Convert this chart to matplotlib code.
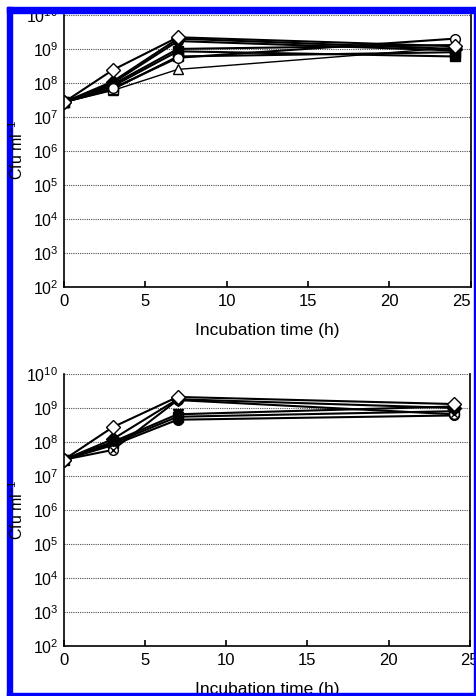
import matplotlib
matplotlib.use("Agg")
import matplotlib.pyplot as plt
from matplotlib.patches import Rectangle

plt.rcParams['font.family'] = ['Liberation Sans', 'DejaVu Sans']
plt.rcParams['mathtext.fontset'] = 'custom'
plt.rcParams['mathtext.rm'] = 'Liberation Sans'
plt.rcParams['mathtext.it'] = 'Liberation Sans'

# incubation times (h)
time = [0, 3, 7, 24]

# top panel series (cfu/ml)
top_open_diamond = [2.7e7, 2.4e8, 2.2e9, 1.2e9]
top_fill_diamond = [2.7e7, 1.1e8, 2.0e9, 1.0e9]
top_open_square = [2.7e7, 6.5e7, 6.0e8, 8.0e8]
top_fill_square = [2.7e7, 8.0e7, 8.5e8, 6.0e8]
top_open_triangle = [2.7e7, 6.0e7, 2.5e8, 1.1e9]
top_fill_triangle = [2.7e7, 9.0e7, 1.0e9, 1.3e9]
top_open_circle = [2.7e7, 7.0e7, 5.5e8, 2.0e9]
top_fill_circle = [2.7e7, 1.0e8, 1.7e9, 9.0e8]

# bottom panel series (cfu/ml)
bot_open_diamond = [3.0e7, 2.7e8, 2.1e9, 1.3e9]
bot_fill_diamond = [3.0e7, 1.2e8, 1.8e9, 1.0e9]
bot_cross_circle = [3.0e7, 5.8e7, 1.7e9, 6.5e8]
bot_fill_tri_down = [3.0e7, 1.0e8, 6.5e8, 1.1e9]
bot_fill_square = [3.0e7, 9.0e7, 5.5e8, 8.0e8]
bot_fill_circle = [3.0e7, 8.0e7, 4.5e8, 6.0e8]

yticks = [1e2, 1e3, 1e4, 1e5, 1e6, 1e7, 1e8, 1e9, 1e10]
ytick_labels = ['$10^{%d}$' % i for i in range(2, 11)]
xticks = [0, 5, 10, 15, 20, 25]

W, H = 477.0, 696.0
fig = plt.figure(figsize=(4.77, 6.96), dpi=100)
ax1 = fig.add_axes([0.134, 0.5876, 0.853, 0.391])
ax2 = fig.add_axes([0.134, 0.0718, 0.851, 0.391])


def style(ax):
    ax.set_yscale('log')
    ax.set_ylim(1e2, 1e10)
    ax.set_xlim(0, 25)
    ax.set_yticks(yticks)
    ax.set_yticklabels(ytick_labels, fontsize=11.5)
    ax.minorticks_off()
    ax.set_xticks(xticks)
    ax.set_xticklabels([str(x) for x in xticks], fontsize=12)
    ax.tick_params(axis='x', direction='in', length=4, width=1.2, pad=5)
    ax.tick_params(axis='y', length=0, pad=4)
    for y in yticks[1:]:
        ax.axhline(y, color='0.3', lw=0.8, ls=(0, (1, 1)), zorder=0)
    ax.spines['top'].set_visible(False)
    for s in ['left', 'right', 'bottom']:
        ax.spines[s].set_linewidth(1.2)
    ax.set_xlabel('Incubation time (h)', fontsize=12.5, labelpad=10)


kw = dict(color='black', lw=1.5, ms=7, mec='black', mew=1.0)

ax1.plot(time, top_open_triangle, marker='^', mfc='white', lw=1.0, color='black', ms=7, mew=1.0)
ax1.plot(time, top_open_square, marker='s', mfc='white', **kw)
ax1.plot(time, top_fill_square, marker='s', mfc='black', **kw)
ax1.plot(time, top_fill_triangle, marker='^', mfc='black', **kw)
ax1.plot(time, top_fill_circle, marker='o', mfc='black', **kw)
ax1.plot(time, top_fill_diamond, marker='D', mfc='black', **kw)
ax1.plot(time, top_open_circle, marker='o', mfc='white', **kw)
ax1.plot(time, top_open_diamond, marker='D', mfc='white', **kw)
style(ax1)
ax1.get_xticklabels()[-1].set_horizontalalignment('right')

ax2.plot(time, bot_fill_circle, marker='o', mfc='black', **kw)
ax2.plot(time, bot_fill_square, marker='s', mfc='black', **kw)
ax2.plot(time, bot_fill_tri_down, marker='v', mfc='black', **kw)
ax2.plot(time, bot_cross_circle, marker='o', mfc='white', **kw)
ax2.plot(time, bot_cross_circle, marker='x', ls='none', color='black', ms=5, mew=1.0)
ax2.plot(time, bot_fill_diamond, marker='D', mfc='black', **kw)
ax2.plot(time, bot_open_diamond, marker='D', mfc='white', **kw)
style(ax2)

# y labels
fig.text(17 / W, 1 - 150 / H, 'Cfu ml$^{-1}$', rotation=90, ha='center', va='center', fontsize=11.5, zorder=11)
fig.text(17 / W, 1 - 510 / H, 'Cfu ml$^{-1}$', rotation=90, ha='center', va='center', fontsize=11.5, zorder=11)

# blue frame
blue = '#0000ff'
fig.patches.append(Rectangle((7 / W, 0), 5 / W, 689 / H, transform=fig.transFigure, color=blue, zorder=10))
fig.patches.append(Rectangle((7 / W, 683 / H), 470 / W, 6 / H, transform=fig.transFigure, color=blue, zorder=10))
fig.patches.append(Rectangle((474 / W, 0), 1.5 / W, 689 / H, transform=fig.transFigure, color=blue, zorder=10))
fig.patches.append(Rectangle((7 / W, 0), 470 / W, 3 / H, transform=fig.transFigure, color=blue, zorder=10))

fig.savefig('out.png', dpi=100)
